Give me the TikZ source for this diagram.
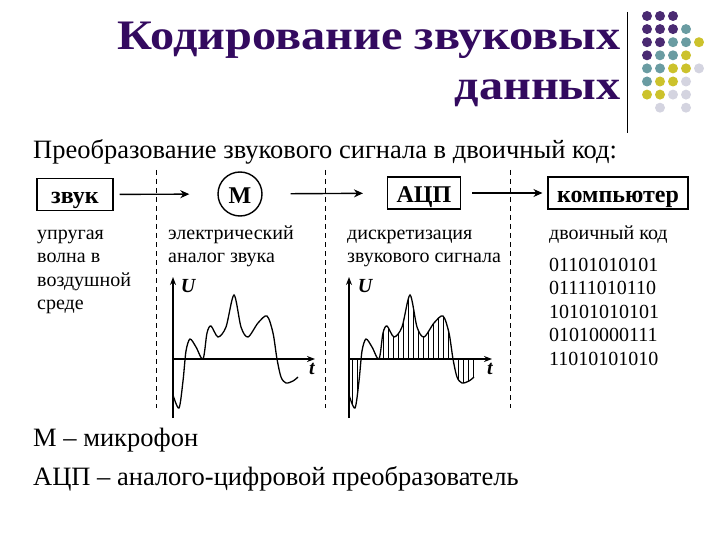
\documentclass[tikz,border=0pt]{standalone}
\usepackage{graphicx}
\usepackage{fontspec}
\setmainfont{Liberation Serif}
\usetikzlibrary{arrows.meta,positioning}

\definecolor{titlepurple}{HTML}{330A5F}
\definecolor{dotpurple}{HTML}{4A2A72}
\definecolor{dotteal}{HTML}{6A9CA2}
\definecolor{dotyellow}{HTML}{CCC22C}
\definecolor{dotgray}{HTML}{D4D4E0}

% signal shape, origin at the crossing of the axes
\newcommand{\wavecurve}{plot[smooth] coordinates {(0,36) (6,49) (10,22) (13,-8) (17,-20) (23,-12) (30,0) (34,-26) (38,-33) (45,-22) (53,-32) (61,-64) (68,-32) (75,-22) (85,-36) (94,-43) (100,-26) (104,0) (108,18) (113,24) (120,22) (125,18)}}
\newcommand{\wide}[1]{\scalebox{1.15}[1]{#1}}

\begin{document}
\begin{tikzpicture}[
        x=1pt, y=-1pt,
        font=\fontsize{20}{23.5}\selectfont,
        box/.style={
            draw,
            line width=1.4pt,
            minimum height=32pt,
            inner xsep=9pt,
            text height=19pt,
            text depth=0pt,
            font=\fontsize{24}{28}\selectfont\bfseries
        },
        note/.style={anchor=base west, align=left, inner sep=0pt},
        flow/.style={line width=1.4pt, -{Stealth[length=9pt,width=8pt]}},
        axis/.style={line width=1.6pt, -{Stealth[length=8pt,width=6pt]}},
        wave/.style={line width=1.3pt},
        sample/.style={line width=0.5pt},
        divider/.style={dash pattern=on 5pt off 4pt, line width=0.6pt},
        axislabel/.style={font=\fontsize{20}{24}\selectfont\bfseries\itshape, inner sep=0pt},
        plain/.style={anchor=base west, inner sep=0pt, font=\fontsize{26.5}{30}\selectfont}
    ]
    \useasboundingbox (0,0) rectangle (720,540);

    % title and decoration (base = last line)
    \node[anchor=base east, align=right, inner sep=0pt, text=titlepurple,
          font=\fontsize{42}{50}\selectfont\bfseries] (title) at (621,100)
        {\wide{Кодирование звуковых}\\\wide{данных}};
    \draw[line width=1pt] (627,12) -- (627,133);

    \begin{scope}[shift={(647,16)}, x=13pt, y=-13.1pt]
        \foreach \pos in {(0,0),(1,0),(2,0),(0,1),(1,1),(2,1),(0,2),(1,2),(0,3)}
            \fill[dotpurple] \pos circle (5pt);
        \foreach \pos in {(3,1),(2,2),(3,2),(1,3),(2,3),(0,4),(1,4),(0,5)}
            \fill[dotteal] \pos circle (5pt);
        \foreach \pos in {(4,2),(3,3),(2,4),(3,4),(1,5),(2,5),(0,6),(1,6)}
            \fill[dotyellow] \pos circle (5pt);
        \foreach \pos in {(4,4),(3,5),(2,6),(3,6),(1,7),(3,7)}
            \fill[dotgray] \pos circle (5pt);
    \end{scope}

    \node[plain] (intro) at (33,159)
        {Преобразование звукового сигнала в двоичный код:};

    % chain of devices
    \node[box, minimum width=76pt] (sound) at (75,194.5) {звук};
    \node[box, circle, minimum size=44pt, inner sep=0pt] (mic) at (240,194) {М};
    \node[box] (adc) at (424,193) {АЦП};
    \node[box] (pc) at (618,193) {компьютер};

    \draw[flow, shorten <=6pt, shorten >=28pt] (sound) -- (mic);
    \draw[flow, shorten <=28pt, shorten >=24pt] (mic) -- (adc);
    \draw[flow, shorten <=11pt, shorten >=5pt] (adc) -- (pc);

    \foreach \x in {156,325,510}
        \draw[divider] (\x,170) -- (\x,408);

    % captions (base = last line)
    \node[note] (air) at (37,309.5) {упругая\\волна в\\воздушной\\среде};
    \node[note] (analog) at (168,262.5) {электрический\\аналог звука};
    \node[note] (discrete) at (347,262.5) {дискретизация\\звукового сигнала};
    \node[note] (binary) at (549,240) {двоичный код};
    \foreach \code [count=\i] in {01101010101,01111010110,10101010101,01010000111,11010101010}
        \node[note] (bin\i) at (549,{247.5+23.5*\i}) {\code};

    % analog signal
    \begin{scope}[shift={(173,359)}]
        \draw[axis] (0,59) -- (0,-82);
        \draw[axis] (0,0) -- (142,0);
        \draw[wave] \wavecurve;
        \node[axislabel] (u1) at (15,-73) {U};
        \node[axislabel] (t1) at (139,10) {t};
    \end{scope}

    % sampled signal
    \begin{scope}[shift={(349,359)}]
        \begin{scope}
            \clip \wavecurve -- (125,0) -- (0,0) -- cycle;
            \foreach \x in {3,8,34,39,...,124}
                \draw[sample] (\x,-70) -- (\x,60);
        \end{scope}
        \draw[axis] (0,59) -- (0,-82);
        \draw[axis] (0,0) -- (143,0);
        \draw[wave] \wavecurve;
        \node[axislabel] (u2) at (16,-73) {U};
        \node[axislabel] (t2) at (141,10) {t};
    \end{scope}

    % legend
    \node[plain] (legm) at (33,446) {М – микрофон};
    \node[plain] (legadc) at (33,485) {АЦП – аналого-цифровой преобразователь};

\end{tikzpicture}
\end{document}
